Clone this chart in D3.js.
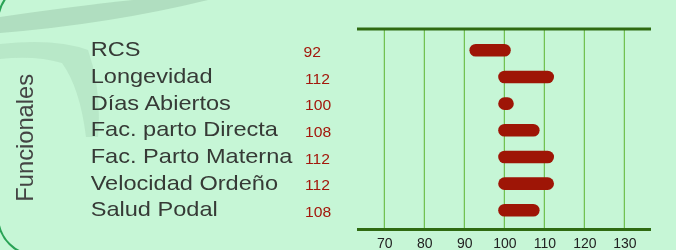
<!DOCTYPE html>
<html>
<head>
<meta charset="utf-8">
<script src="https://cdn.jsdelivr.net/npm/d3@7"></script>
<style>
  html, body { margin: 0; padding: 0; background: #c6f6d6; }
  svg { display: block; }
</style>
</head>
<body>
<svg id="chart" width="676" height="250"></svg>
<script>
// ---- data ----
const categories = ["RCS", "Longevidad", "Días Abiertos", "Fac. parto Directa", "Fac. Parto Materna", "Velocidad Ordeño", "Salud Podal"];
const values = [92, 112, 100, 108, 112, 112, 108];
const tickValues = [70, 80, 90, 100, 110, 120, 130];
const groupTitle = "Funcionales";
const baseline = 100;

const svg = d3.select("#chart");
const W = 676, H = 250;

// background
svg.append("rect").attr("width", W).attr("height", H).attr("fill", "#c6f6d6");

// decorative swooshes
const deco = svg.append("g").attr("fill", "#a9d6b8").attr("opacity", 0.75);
deco.append("path").attr("d", "M0,17 Q75,6 133,0 L208,0 Q110,24 0,33 Z");
deco.append("path").attr("opacity", 0.6)
  .attr("d", "M0,44 Q55,38 88,50 Q102,90 98,137 L86,137 Q80,88 62,63 Q35,55 0,59 Z");

// rounded border (mostly off-canvas)
svg.append("rect")
  .attr("x", -2).attr("y", -18).attr("width", 760).attr("height", 274)
  .attr("rx", 40).attr("ry", 40)
  .attr("fill", "none").attr("stroke", "#2aa356").attr("stroke-width", 2);

// scales
const x = d3.scaleLinear().domain([70, 130]).range([384.3, 624.3]);
// bars in the original are drawn with a slightly narrower scale around the baseline
const xBar = d3.scaleLinear().domain([70, 130]).range([396.5, 612.5]);
const y = d3.scalePoint().domain(categories).range([50.3, 210.3]);

const plotTop = 29, plotBottom = 229.5, plotLeft = 357, plotRight = 651;

// grid lines
svg.append("g").selectAll("line").data(tickValues).join("line")
  .attr("x1", d => x(d)).attr("x2", d => x(d))
  .attr("y1", plotTop).attr("y2", plotBottom)
  .attr("stroke", "#5db531").attr("stroke-width", 1);

// top & bottom axis rules
[plotTop, plotBottom].forEach(yy => {
  svg.append("line")
    .attr("x1", plotLeft).attr("x2", plotRight)
    .attr("y1", yy).attr("y2", yy)
    .attr("stroke", "#2f6a12").attr("stroke-width", 3);
});

// bottom axis tick labels
const axis = d3.axisBottom(x).tickValues(tickValues).tickSize(0).tickPadding(0);
const ag = svg.append("g").attr("transform", `translate(0,${plotBottom})`).call(axis);
ag.select(".domain").remove();
ag.selectAll("text")
  .attr("dy", null).attr("y", 18)
  .attr("font-family", "Liberation Sans, Arial, sans-serif")
  .attr("font-size", 14).attr("fill", "#222");

// bars (round capped)
const rows = categories.map((c, i) => ({ c, v: values[i] }));
svg.append("g").selectAll("line").data(rows).join("line")
  .attr("x1", d => xBar(Math.min(d.v, baseline)))
  .attr("x2", d => Math.max(xBar(Math.max(d.v, baseline)), xBar(Math.min(d.v, baseline)) + 3))
  .attr("y1", d => y(d.c)).attr("y2", d => y(d.c))
  .attr("stroke", "#9e1506").attr("stroke-width", 12.6)
  .attr("stroke-linecap", "round");

// category labels (horizontally stretched as in the original)
const lg = svg.append("g").attr("transform", "translate(90.7,0) scale(1.15,1)");
lg.selectAll("text").data(rows).join("text")
  .attr("x", 0).attr("y", d => y(d.c) + 6.2)
  .attr("font-family", "Liberation Sans, Arial, sans-serif")
  .attr("font-size", 20.5).attr("fill", "#363a36")
  .text(d => d.c);

// value labels
const vg = svg.append("g").attr("transform", "translate(305,0) scale(1.12,1)");
vg.selectAll("text").data(rows).join("text")
  .attr("x", d => d.v < 100 ? -1.3 : 0).attr("y", d => y(d.c) + 6.6)
  .attr("font-family", "Liberation Sans, Arial, sans-serif")
  .attr("font-size", 14).attr("fill", "#a3180c")
  .text(d => d.v);

// group title (rotated)
svg.append("text")
  .attr("transform", "translate(33.3,137.8) rotate(-90)")
  .attr("text-anchor", "middle")
  .attr("font-family", "Liberation Sans, Arial, sans-serif")
  .attr("font-size", 23.7).attr("fill", "#444")
  .text(groupTitle);
</script>
</body>
</html>
